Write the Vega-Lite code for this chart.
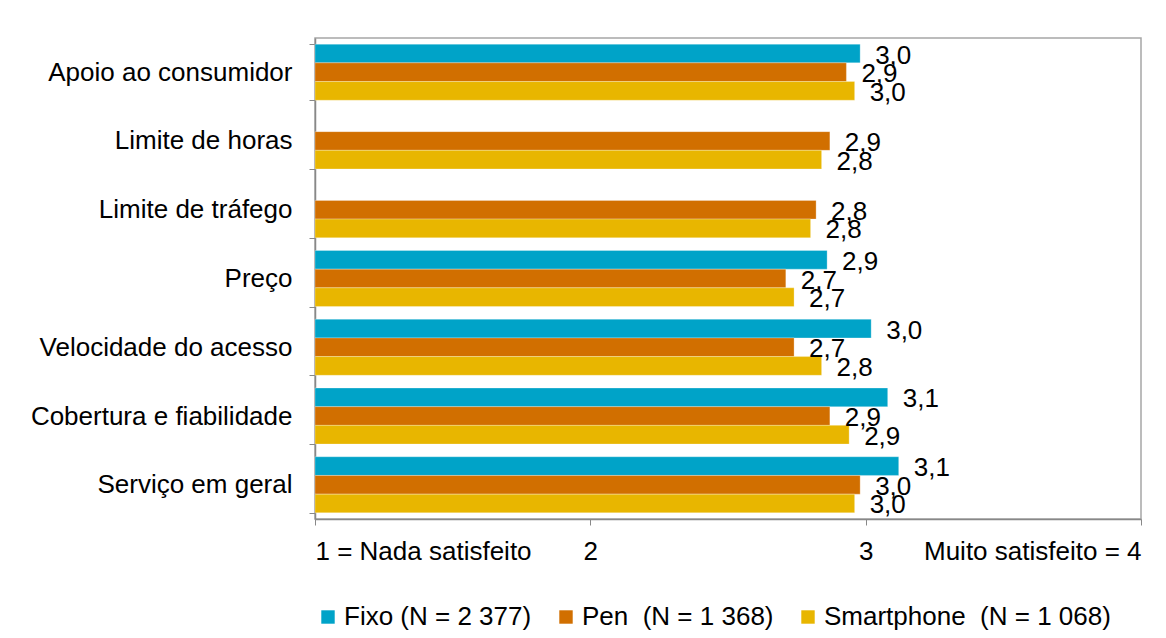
{
  "$schema": "https://vega.github.io/schema/vega-lite/v6.json",
  "autosize": {"type": "none"},
  "width": 826,
  "height": 481,
  "padding": {"left": 315, "top": 38, "right": 25, "bottom": 119},
  "background": "white",
  "config": {
    "font": "Liberation Sans",
    "locale": {"number": {"decimal": ",", "thousands": " ", "grouping": [3], "currency": ["", " €"]}},
    "view": {"stroke": "#a6a6a6", "strokeWidth": 1.5}
  },
  "data": {
    "values": [
      {"item": "Apoio ao consumidor", "serie": "Fixo (N = 2 377)", "valor": 2.98},
      {"item": "Apoio ao consumidor", "serie": "Pen\u00a0 (N = 1 368)", "valor": 2.93},
      {"item": "Apoio ao consumidor", "serie": "Smartphone\u00a0 (N = 1 068)", "valor": 2.96},
      {"item": "Limite de horas", "serie": "Pen\u00a0 (N = 1 368)", "valor": 2.87},
      {"item": "Limite de horas", "serie": "Smartphone\u00a0 (N = 1 068)", "valor": 2.84},
      {"item": "Limite de tráfego", "serie": "Pen\u00a0 (N = 1 368)", "valor": 2.82},
      {"item": "Limite de tráfego", "serie": "Smartphone\u00a0 (N = 1 068)", "valor": 2.80},
      {"item": "Preço", "serie": "Fixo (N = 2 377)", "valor": 2.86},
      {"item": "Preço", "serie": "Pen\u00a0 (N = 1 368)", "valor": 2.71},
      {"item": "Preço", "serie": "Smartphone\u00a0 (N = 1 068)", "valor": 2.74},
      {"item": "Velocidade do acesso", "serie": "Fixo (N = 2 377)", "valor": 3.02},
      {"item": "Velocidade do acesso", "serie": "Pen\u00a0 (N = 1 368)", "valor": 2.74},
      {"item": "Velocidade do acesso", "serie": "Smartphone\u00a0 (N = 1 068)", "valor": 2.84},
      {"item": "Cobertura e fiabilidade", "serie": "Fixo (N = 2 377)", "valor": 3.08},
      {"item": "Cobertura e fiabilidade", "serie": "Pen\u00a0 (N = 1 368)", "valor": 2.87},
      {"item": "Cobertura e fiabilidade", "serie": "Smartphone\u00a0 (N = 1 068)", "valor": 2.94},
      {"item": "Serviço em geral", "serie": "Fixo (N = 2 377)", "valor": 3.12},
      {"item": "Serviço em geral", "serie": "Pen\u00a0 (N = 1 368)", "valor": 2.98},
      {"item": "Serviço em geral", "serie": "Smartphone\u00a0 (N = 1 068)", "valor": 2.96}
    ]
  },
  "encoding": {
    "y": {
      "field": "item",
      "type": "nominal",
      "sort": ["Apoio ao consumidor", "Limite de horas", "Limite de tráfego", "Preço", "Velocidade do acesso", "Cobertura e fiabilidade", "Serviço em geral"],
      "scale": {"paddingInner": 0.185, "paddingOuter": 0.09},
      "axis": {
        "title": null,
        "tickBand": "extent",
        "tickSize": 6,
        "tickColor": "#888888",
        "domainColor": "#888888",
        "domainWidth": 1.5,
        "labelFontSize": 26,
        "labelColor": "#000000",
        "labelPadding": 17,
        "labelLimit": 400,
        "labelFont": "Liberation Sans"
      }
    },
    "yOffset": {
      "field": "serie",
      "type": "nominal",
      "sort": ["Fixo (N = 2 377)", "Pen\u00a0 (N = 1 368)", "Smartphone\u00a0 (N = 1 068)"],
      "scale": {"domain": ["Fixo (N = 2 377)", "Pen\u00a0 (N = 1 368)", "Smartphone\u00a0 (N = 1 068)"], "paddingInner": 0, "paddingOuter": 0}
    }
  },
  "layer": [
    {
      "mark": {"type": "bar", "stroke": "white", "strokeOpacity": 0.35, "strokeWidth": 0.8},
      "encoding": {
        "x": {
          "field": "valor",
          "type": "quantitative",
          "scale": {"domain": [1, 4], "nice": false, "zero": false},
          "axis": {
            "title": null,
            "values": [1, 2, 3, 4],
            "grid": false,
            "labelFlush": true,
            "labelExpr": "datum.value == 1 ? '1 = Nada satisfeito' : datum.value == 4 ? 'Muito satisfeito = 4' : format(datum.value, 'd')",
            "tickSize": 6,
            "tickColor": "#888888",
            "domainColor": "#888888",
            "domainWidth": 1.5,
            "labelFontSize": 26,
            "labelColor": "#000000",
            "labelPadding": 13,
            "labelLimit": 400,
            "labelFont": "Liberation Sans"
          }
        },
        "x2": {"datum": 1},
        "color": {
          "field": "serie",
          "type": "nominal",
          "scale": {
            "domain": ["Fixo (N = 2 377)", "Pen\u00a0 (N = 1 368)", "Smartphone\u00a0 (N = 1 068)"],
            "range": ["#00a3c8", "#d16f00", "#e8b600"]
          },
          "legend": {
            "title": null,
            "orient": "bottom",
            "direction": "horizontal",
            "offset": 40,
            "symbolType": "square",
            "symbolSize": 180,
            "symbolStrokeWidth": 0,
            "labelFontSize": 26,
            "labelColor": "#000000",
            "labelFont": "Liberation Sans",
            "labelOffset": 3,
            "columnPadding": 21,
            "labelLimit": 500
          }
        }
      }
    },
    {
      "mark": {"type": "text", "align": "left", "baseline": "middle", "dx": 15, "dy": 2, "fontSize": 26, "color": "#000000", "font": "Liberation Sans"},
      "encoding": {
        "x": {"field": "valor", "type": "quantitative"},
        "text": {"field": "valor", "type": "quantitative", "format": ".1f"}
      }
    }
  ]
}
